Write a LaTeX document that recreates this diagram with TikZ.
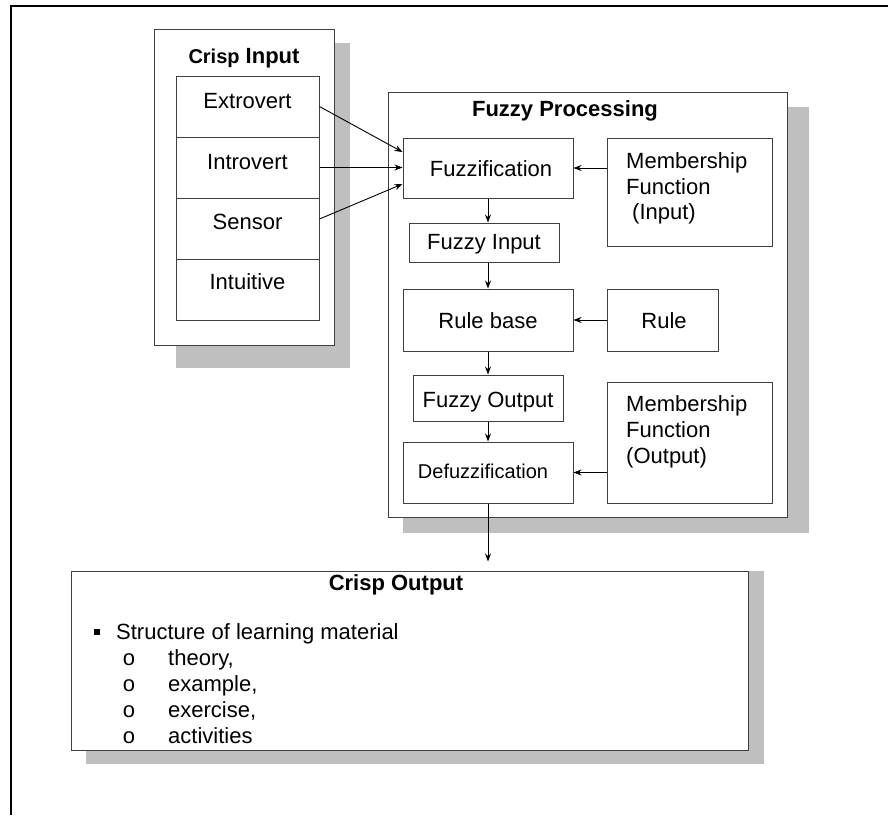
\documentclass[tikz,border=0pt]{standalone}
\usepackage{fontspec}
\setmainfont{Liberation Sans}
\usetikzlibrary{arrows.meta}
\begin{document}
\begin{tikzpicture}[x=1pt,y=-1pt,
  box/.style={draw=black!75, line width=1pt, fill=white, inner sep=0pt},
  shadowbox/.style={fill=black!25, draw=none},
  txt/.style={inner sep=0pt, anchor=base, font=\fontsize{22}{26}\selectfont},
  ltxt/.style={inner sep=0pt, anchor=base west, font=\fontsize{22}{26}\selectfont},
  ttl/.style={inner sep=0pt, anchor=base, font=\fontsize{22}{26}\selectfont\bfseries},
  flow/.style={draw=black, line width=0.9pt, -{Stealth[length=8pt,width=6pt]}},
]
\useasboundingbox (0,0) rectangle (888,815);
\fill[white] (0,0) rectangle (888,815);

% page frame
\draw[line width=2pt] (11,815) -- (11,6) -- (888,6);

% drop shadows
\fill[shadowbox] (176,43) rectangle (350,368);
\fill[shadowbox] (403,107) rectangle (809,533);
\fill[shadowbox] (86,571) rectangle (764,764);

% ---- crisp input ----
\node[box, minimum width=180pt, minimum height=316pt] (cin) at (244,187) {};
\node[inner sep=0pt, anchor=base, font=\fontsize{22}{26}\selectfont\bfseries] (cintitle) at (244,63)
  {{\fontsize{20}{24}\selectfont Crisp} Input};
\node[box, minimum width=143pt, minimum height=61pt] (c1) at (247.5,107) {};
\node[box, minimum width=143pt, minimum height=61pt] (c2) at (247.5,167.5) {};
\node[box, minimum width=143pt, minimum height=61pt] (c3) at (247.5,228.5) {};
\node[box, minimum width=143pt, minimum height=61pt] (c4) at (247.5,289.5) {};
\node[txt] (t1) at (247.5,108) {Extrovert};
\node[txt] (t2) at (247.5,169) {Introvert};
\node[txt] (t3) at (247.5,229) {Sensor};
\node[txt] (t4) at (247.5,289) {Intuitive};

% ---- fuzzy processing ----
\node[box, minimum width=399pt, minimum height=425pt] (fp) at (587.5,304.5) {};
\node[ttl] (fptitle) at (565,116) {Fuzzy Processing};

\node[box, minimum width=170pt, minimum height=60pt] (fuzz) at (488,168) {};
\node[txt] (fuzzt) at (491,176.5) {Fuzzification};

\node[box, minimum width=165pt, minimum height=108pt] (mfin) at (689.5,192) {};
\node[ltxt] (mfin1) at (626,168) {Membership};
\node[ltxt] (mfin2) at (626,194) {Function};
\node[ltxt] (mfin3) at (626,219.5) {\hspace{6pt}(Input)};

\node[box, minimum width=150pt, minimum height=39pt] (fin) at (484,242.5) {};
\node[txt] (fint) at (484,249) {Fuzzy Input};

\node[box, minimum width=170pt, minimum height=62pt] (rb) at (488,320) {};
\node[txt] (rbt) at (488,328) {Rule base};

\node[box, minimum width=111pt, minimum height=62pt] (rule) at (662.5,320) {};
\node[txt] (rulet) at (664,328) {Rule};

\node[box, minimum width=150pt, minimum height=46pt] (fout) at (488,398) {};
\node[txt] (foutt) at (488,407.5) {Fuzzy Output};

\node[box, minimum width=170pt, minimum height=61pt] (defuzz) at (488,472.5) {};
\node[inner sep=0pt, anchor=base, font=\fontsize{20}{24}\selectfont] (defuzzt) at (483,478) {Defuzzification};

\node[box, minimum width=165pt, minimum height=121pt] (mfout) at (689.5,442.5) {};
\node[ltxt] (mfout1) at (626,411.5) {Membership};
\node[ltxt] (mfout2) at (626,437.5) {Function};
\node[ltxt] (mfout3) at (626,463) {(Output)};

% ---- crisp output ----
\node[box, minimum width=677pt, minimum height=179pt] (cout) at (410,660.5) {};
\node[ttl] (couttitle) at (396,590) {Crisp Output};
\node[fill=black, inner sep=0pt, minimum size=6pt] (bul) at (97,632) {};
\node[ltxt] (item) at (116,639) {Structure of learning material};
\node[txt] (o1) at (129,665) {o};
\node[txt] (o2) at (129,691) {o};
\node[txt] (o3) at (129,717) {o};
\node[txt] (o4) at (129,743) {o};
\node[ltxt] (s1) at (168,665) {theory,};
\node[ltxt] (s2) at (168,691) {example,};
\node[ltxt] (s3) at (168,717) {exercise,};
\node[ltxt] (s4) at (168,743) {activities};

% ---- connectors ----
\draw[flow] ([yshift=0.5pt]c1.east) -- ([yshift=16pt]fuzz.west);
\draw[flow] (c2.east) -- (c2.east -| fuzz.west);
\draw[flow] ([yshift=9.5pt]c3.east) -- ([yshift=-16pt]fuzz.west);

\draw[flow] (mfin.west |- fuzz.east) -- (fuzz.east);
\draw[flow] (rule.west) -- (rb.east);
\draw[flow] (mfout.west |- defuzz.east) -- (defuzz.east);

\draw[flow] (fuzz.south) -- (fuzz.south |- fin.north);
\draw[flow] (fuzz.south |- fin.south) -- (rb.north);
\draw[flow] (rb.south) -- (rb.south |- fout.north);
\draw[flow] (rb.south |- fout.south) -- (defuzz.north);
\draw[flow, shorten >=9pt] (defuzz.south) -- (defuzz.south |- cout.north);
\end{tikzpicture}
\end{document}
